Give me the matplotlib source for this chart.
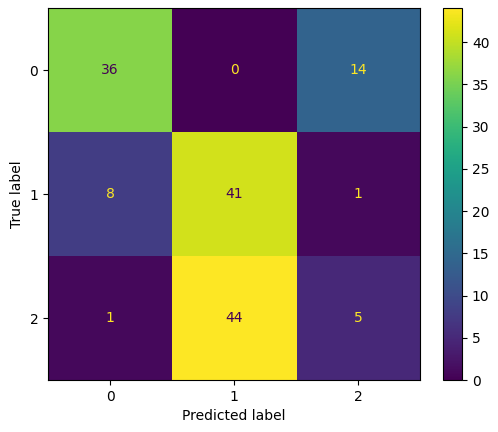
import numpy as np
import matplotlib
matplotlib.use("Agg")
import matplotlib.pyplot as plt

# confusion matrix values
labels = ["0", "1", "2"]
cm = np.array([[36, 0, 14],
               [8, 41, 1],
               [1, 44, 5]])

fig = plt.figure(figsize=(4.98, 4.32), dpi=100)
ax = fig.add_axes([0.0964, 0.120, 0.747, 0.861])
cax = fig.add_axes([0.890, 0.120, 0.038, 0.861])

cmap = plt.get_cmap("viridis")
im = ax.imshow(cm, interpolation="nearest", cmap=cmap, aspect="auto")

# text color like sklearn's ConfusionMatrixDisplay
cmap_min, cmap_max = cmap(0), cmap(1.0)
thresh = (cm.max() + cm.min()) / 2.0
for i in range(cm.shape[0]):
    for j in range(cm.shape[1]):
        color = cmap_max if cm[i, j] < thresh else cmap_min
        ax.text(j, i, str(cm[i, j]), ha="center", va="center", color=color)

ax.set_xticks(np.arange(len(labels)))
ax.set_yticks(np.arange(len(labels)))
ax.set_xticklabels(labels)
ax.set_yticklabels(labels)
ax.set_xlabel("Predicted label")
ax.set_ylabel("True label")

cb = fig.colorbar(im, cax=cax)
cb.set_ticks(np.arange(0, 45, 5))

fig.savefig("out.png", dpi=100)
